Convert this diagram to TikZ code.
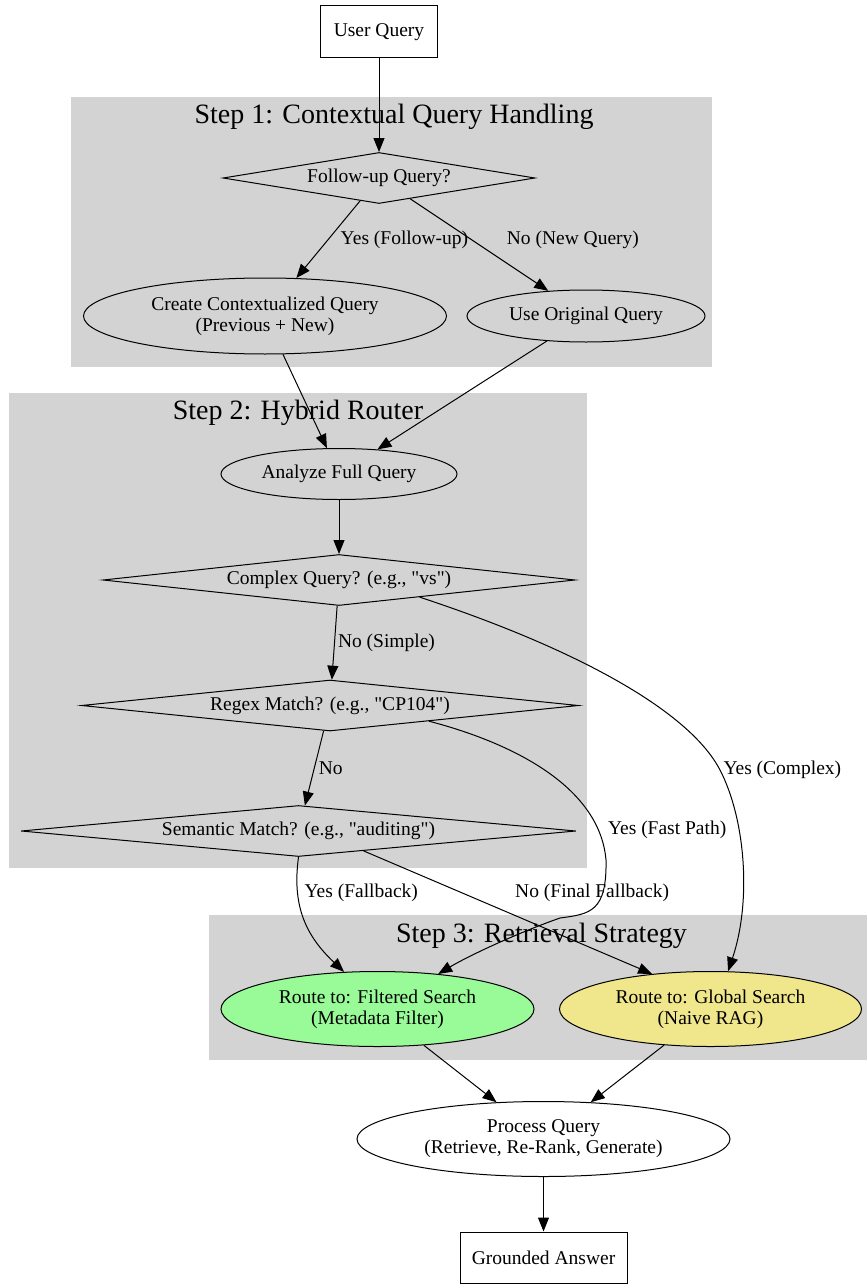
\documentclass[tikz,border=0pt]{standalone}
\usepackage{fontspec}
\setmainfont{Liberation Serif}[Ligatures=TeXOff]
\usetikzlibrary{shapes.geometric,arrows.meta}

\begin{document}
\begin{tikzpicture}[x=1pt,y=-1pt,
  txt/.style={font=\fontsize{19.5}{21}\selectfont},
  box/.style={txt, draw, line width=1pt, rectangle, inner sep=0pt, align=center, fill=white},
  oval/.style={txt, draw, line width=1pt, ellipse, inner sep=0pt, align=center},
  dia/.style={txt, draw, line width=1pt, diamond, inner sep=0pt},
  cluster/.style={fill=ClusterGray, draw=none},
  steptitle/.style={font=\fontsize{28}{32}\selectfont},
  lbl/.style={txt, inner sep=0pt},
  link/.style={line width=1pt, -{Triangle[length=14pt,width=11pt]}}]
\definecolor{ClusterGray}{RGB}{211,211,211}
\definecolor{RoutePaleGreen}{RGB}{152,251,152}
\definecolor{RouteKhaki}{RGB}{240,230,140}
\useasboundingbox (0,0) rectangle (867,1284);
\fill[white] (0,0) rectangle (867,1284);

\fill[cluster] (71,97) rectangle (712,367);
\node[steptitle] (t1) at (394,117) {Step 1: Contextual Query Handling};
\fill[cluster] (9,393) rectangle (587,868);
\node[steptitle] (t2) at (298,413) {Step 2: Hybrid Router};
\fill[cluster] (209,915) rectangle (867,1060);
\node[steptitle] (t3) at (541.5,936) {Step 3: Retrieval Strategy};

\node[box, minimum width=117pt, minimum height=52pt] (user) at (379,32) {User Query};
\node[dia, aspect=6.1, minimum width=312pt, minimum height=51pt] (fq) at (379,178) {Follow-up Query?};
\node[oval, minimum width=363pt, minimum height=76pt] (ctx) at (265,316) {Create Contextualized Query\\(Previous + New)};
\node[oval, minimum width=238pt, minimum height=52pt] (orig) at (586,316) {Use Original Query};
\node[oval, minimum width=236pt, minimum height=51pt] (afq) at (339,474) {Analyze Full Query};
\node[dia, aspect=9.25, minimum width=472pt, minimum height=51pt] (cq) at (339,580) {Complex Query? (e.g., "vs")};
\node[dia, aspect=9.75, minimum width=497pt, minimum height=51pt] (rx) at (330,705.5) {Regex Match? (e.g., "CP104")};
\node[dia, aspect=10.9, minimum width=555pt, minimum height=51pt] (sm) at (298.5,831) {Semantic Match? (e.g., "auditing")};
\node[oval, fill=RoutePaleGreen, minimum width=313pt, minimum height=75pt] (flt) at (377.5,1009) {Route to: Filtered Search\\(Metadata Filter)};
\node[oval, fill=RouteKhaki, minimum width=302pt, minimum height=75pt] (glb) at (710.5,1009) {Route to: Global Search\\(Naive RAG)};
\node[oval, fill=white, minimum width=373pt, minimum height=75pt] (proc) at (543.5,1139) {Process Query\\(Retrieve, Re-Rank, Generate)};
\node[box, minimum width=167pt, minimum height=51pt] (ans) at (543.5,1257.5) {Grounded Answer};

\draw[link] (user) -- (fq);
\draw[link] (fq) -- node[lbl, pos=0.5, anchor=west, xshift=12pt] (lfu) {Yes (Follow-up)} (ctx);
\draw[link] (fq) -- node[lbl, pos=0.45, anchor=west, xshift=34pt] (lnq) {No (New Query)} (orig);
\draw[link] (ctx) -- (afq);
\draw[link] (orig) -- (afq);
\draw[link] (afq) -- (cq);
\draw[link] (cq) -- node[lbl, pos=0.5, anchor=west, xshift=3pt] (lsi) {No (Simple)} (rx);
\draw[link] (cq.-12) .. controls (580,650) and (690,712) .. (720,770)
  node[lbl, anchor=west, xshift=3pt] (lcx) {Yes (Complex)}
  .. controls (745,818) and (752,900) .. (glb.65);
\draw[link] (rx) -- node[lbl, pos=0.5, anchor=west, xshift=4pt] (lno) {No} (sm);
\draw[link] (rx.-9) .. controls (520,745) and (600,790) .. (606,860)
  node[lbl, pos=0.85, anchor=west, xshift=9pt] (lfp) {Yes (Fast Path)}
  .. controls (607,912) and (590,914) .. (560,918)
  .. controls (520,932) and (470,955) .. (flt.30);
\draw[link] (sm.south) .. controls (292,905) and (305,935) .. (flt.132)
  node[lbl, pos=0.3, anchor=west, xshift=6pt, yshift=3pt] (lfb) {Yes (Fallback)};
\draw[link] (sm.-17) -- node[lbl, pos=0.34, anchor=west, xshift=53pt] (lff) {No (Final Fallback)} (glb.149);
\draw[link] (flt) -- (proc);
\draw[link] (glb) -- (proc);
\draw[link] (proc) -- (ans);
\end{tikzpicture}
\end{document}
